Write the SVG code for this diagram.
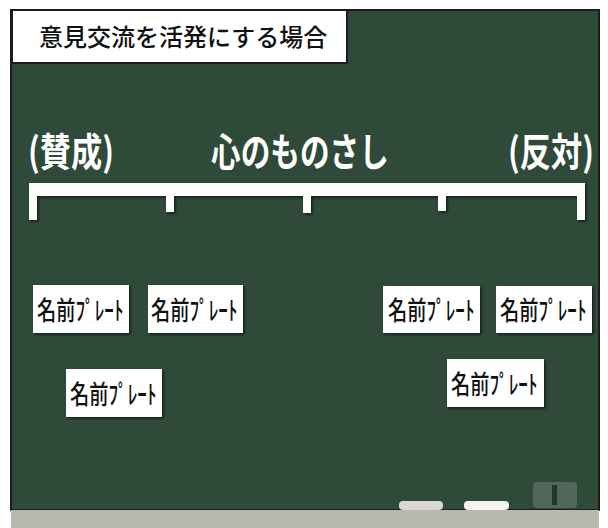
<svg xmlns="http://www.w3.org/2000/svg" width="608" height="528" viewBox="0 0 608 528">
<defs>
<filter id="sh" x="-10%" y="-10%" width="120%" height="130%">
<feDropShadow dx="1.5" dy="1.5" stdDeviation="1.2" flood-color="#0a140e" flood-opacity="0.9"/>
</filter>
<style>
.plate rect{fill:#ffffff;filter:url(#sh)}
.plate text{font-family:"Noto Sans CJK JP","Noto Sans",sans-serif;font-size:26px;fill:#111;font-weight:500}
.big{font-family:"Noto Sans CJK JP","Noto Sans",sans-serif;font-size:39px;font-weight:700;fill:#ffffff}
</style>
</defs>
<rect x="0" y="0" width="608" height="528" fill="#ffffff"/>
<g id="board">
<rect x="11" y="10" width="588" height="500" fill="#2f4a39" stroke="#1c1c1c" stroke-width="2"/>
<rect x="11" y="510" width="588" height="18" fill="#b8b8b0"/>
<rect x="399" y="501" width="44" height="9" rx="4" fill="#d8d8d2"/>
<rect x="464" y="501" width="45" height="9" rx="4" fill="#f4f4f2"/>
<rect x="533" y="482" width="44" height="26" rx="4" fill="#7d8c82" opacity="0.45"/>
<rect x="552" y="485" width="5" height="20" fill="#25352b"/>
</g>
<g id="title">
<rect x="12" y="10" width="335" height="53" fill="#ffffff" stroke="#1c1c1c" stroke-width="2"/>
<text x="39" y="46" font-family="'Noto Sans CJK JP','Noto Sans',sans-serif" font-size="24" font-weight="500" fill="#111">意見交流を活発にする場合</text>
</g>
<g id="labels">
<text class="big" transform="translate(28,166) scale(0.8,1)">(賛成)</text>
<text class="big" transform="translate(211,166) scale(0.76,1)">心のものさし</text>
<text class="big" transform="translate(508,166) scale(0.8,1)">(反対)</text>
</g>
<g id="ruler">
<path d="M29,183 H585 V220 H577 V196 H446 V211 H438 V196 H311 V213 H303 V196 H174 V212 H166 V196 H37 V220 H29 Z" fill="#ffffff" filter="url(#sh)"/>
</g>
<g id="plate1" class="plate"><rect x="33" y="285" width="96" height="48"/><text transform="translate(37,320) scale(0.74,1)">名前ﾌﾟﾚｰﾄ</text></g>
<g id="plate2" class="plate"><rect x="148" y="285" width="95" height="48"/><text transform="translate(151,320) scale(0.74,1)">名前ﾌﾟﾚｰﾄ</text></g>
<g id="plate3" class="plate"><rect x="66" y="369" width="96" height="48"/><text transform="translate(70,404) scale(0.74,1)">名前ﾌﾟﾚｰﾄ</text></g>
<g id="plate4" class="plate"><rect x="383" y="286" width="97" height="47"/><text transform="translate(388,320) scale(0.74,1)">名前ﾌﾟﾚｰﾄ</text></g>
<g id="plate5" class="plate"><rect x="496" y="286" width="96" height="47"/><text transform="translate(500,320) scale(0.74,1)">名前ﾌﾟﾚｰﾄ</text></g>
<g id="plate6" class="plate"><rect x="447" y="359" width="97" height="48"/><text transform="translate(451,394) scale(0.74,1)">名前ﾌﾟﾚｰﾄ</text></g>
</svg>
